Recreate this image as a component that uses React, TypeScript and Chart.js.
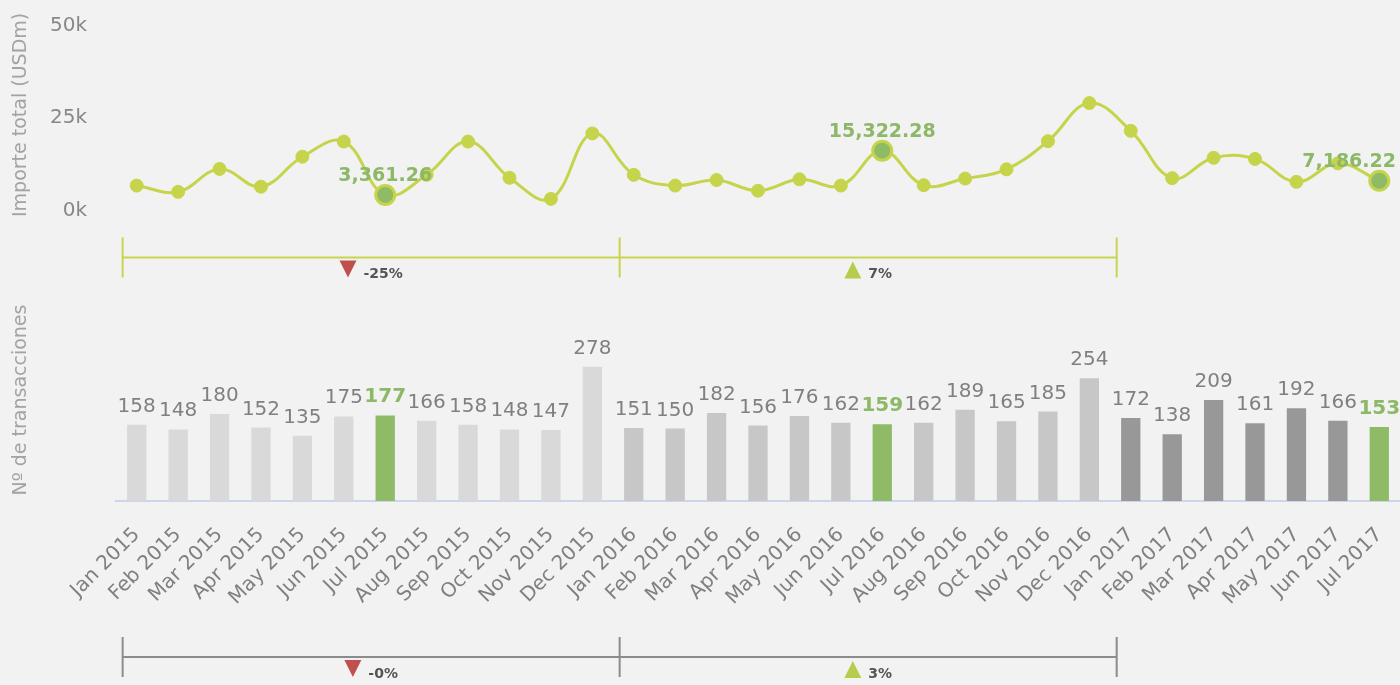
import React, { useEffect, useRef } from 'react';
import { Chart, registerables } from 'chart.js';

Chart.register(...registerables);

// ---------- data ----------
const months = [
  'Jan 2015', 'Feb 2015', 'Mar 2015', 'Apr 2015', 'May 2015', 'Jun 2015', 'Jul 2015', 'Aug 2015', 'Sep 2015', 'Oct 2015', 'Nov 2015', 'Dec 2015',
  'Jan 2016', 'Feb 2016', 'Mar 2016', 'Apr 2016', 'May 2016', 'Jun 2016', 'Jul 2016', 'Aug 2016', 'Sep 2016', 'Oct 2016', 'Nov 2016', 'Dec 2016',
  'Jan 2017', 'Feb 2017', 'Mar 2017', 'Apr 2017', 'May 2017', 'Jun 2017', 'Jul 2017',
];

// Importe total (USDm)
const amountUSDm = [
  5900, 4200, 10400, 5600, 13700, 17800, 3361.26, 8800, 17800, 8000, 2300, 20000,
  8800, 5900, 7400, 4500, 7600, 5900, 15322.28, 6000, 7800, 10300, 17900, 28200,
  20700, 7900, 13400, 13100, 6900, 11900, 7186.22,
];

// Nº de transacciones
const transactions = [
  158, 148, 180, 152, 135, 175, 177, 166, 158, 148, 147, 278,
  151, 150, 182, 156, 176, 162, 159, 162, 189, 165, 185, 254,
  172, 138, 209, 161, 192, 166, 153,
];

const amountTicks = [0, 25000, 50000];
const periodStarts = ['Jan 2015', 'Jan 2016', 'Jan 2017'];
const amountChangeLabels = ['-25%', '7%'];
const amountChangeDirs = ['down', 'up'];
const countChangeLabels = ['-0%', '3%'];
const countChangeDirs = ['down', 'up'];

// ---------- styles ----------
const FONT = '"DejaVu Sans", Verdana, sans-serif';
const LINE_COLOR = '#c6d44b';
const HI_GREEN = '#8fbb67';
const HI_TEXT = '#8cb868';
const LABEL_GRAY = '#808080';
const TITLE_GRAY = '#a3a3a3';
const YEAR_COLORS: Record<string, string> = { '2015': '#d9d9d9', '2016': '#c7c7c7', '2017': '#989898' };
const CANVAS_W = 1400;
const TOP_H = 290;
const BOTTOM_TOP = 290;
const BOTTOM_H = 395;
const AXIS_W = 116;

const isHi = (m: string) => m.startsWith('Jul');

function bracketPlugin(id: string, labels: string[], dirs: string[], color: string, lineY: number) {
  return {
    id,
    afterDraw(chart: any) {
      const ctx = chart.ctx;
      const xs = chart.scales.x;
      const step = xs.getPixelForValue(1) - xs.getPixelForValue(0);
      const pos = periodStarts.map((m) => xs.getPixelForValue(months.indexOf(m)) - 0.34 * step);
      const y = lineY;
      ctx.save();
      ctx.strokeStyle = color;
      ctx.lineWidth = 2;
      ctx.beginPath();
      ctx.moveTo(pos[0], y);
      ctx.lineTo(pos[pos.length - 1], y);
      pos.forEach((p) => {
        ctx.moveTo(p, y - 20);
        ctx.lineTo(p, y + 20);
      });
      ctx.stroke();
      ctx.font = `bold 14px ${FONT}`;
      ctx.textBaseline = 'middle';
      ctx.textAlign = 'left';
      labels.forEach((txt, k) => {
        const cx = (pos[k] + pos[k + 1]) / 2;
        const tw = ctx.measureText(txt).width;
        const triW = 17;
        const gap = 7;
        const sx = cx - (triW + gap + tw) / 2;
        ctx.beginPath();
        if (dirs[k] === 'down') {
          ctx.fillStyle = '#c0504d';
          ctx.moveTo(sx, y + 3);
          ctx.lineTo(sx + triW, y + 3);
          ctx.lineTo(sx + triW / 2, y + 20);
        } else {
          ctx.fillStyle = '#b5cc4c';
          ctx.moveTo(sx + triW / 2, y + 4);
          ctx.lineTo(sx + triW, y + 21);
          ctx.lineTo(sx, y + 21);
        }
        ctx.closePath();
        ctx.fill();
        ctx.fillStyle = '#555555';
        ctx.fillText(txt, sx + triW + gap, y + 17);
      });
      ctx.restore();
    },
  };
}

const lineLabels = {
  id: 'lineLabels',
  afterDatasetsDraw(chart: any) {
    const ctx = chart.ctx;
    const meta = chart.getDatasetMeta(0);
    ctx.save();
    ctx.font = `bold 19px ${FONT}`;
    ctx.fillStyle = HI_TEXT;
    ctx.textAlign = 'center';
    ctx.textBaseline = 'alphabetic';
    months.forEach((m, i) => {
      if (!isHi(m)) return;
      const pt = meta.data[i];
      const txt = amountUSDm[i].toLocaleString('en-US', { minimumFractionDigits: 2, maximumFractionDigits: 2 });
      const w = ctx.measureText(txt).width;
      const x = Math.min(pt.x, chart.width - 4 - w / 2);
      ctx.fillText(txt, x, pt.y - 14);
    });
    ctx.restore();
  },
};

const barLabels = {
  id: 'barLabels',
  afterDatasetsDraw(chart: any) {
    const ctx = chart.ctx;
    const meta = chart.getDatasetMeta(0);
    ctx.save();
    ctx.textAlign = 'center';
    ctx.textBaseline = 'alphabetic';
    months.forEach((m, i) => {
      const bar = meta.data[i];
      const hi = isHi(m);
      ctx.font = `${hi ? 'bold ' : ''}20px ${FONT}`;
      ctx.fillStyle = hi ? HI_TEXT : LABEL_GRAY;
      ctx.fillText(String(transactions[i]), bar.x, bar.y - 13);
    });
    ctx.restore();
  },
};

export default function App() {
  const topRef = useRef<HTMLCanvasElement>(null);
  const bottomRef = useRef<HTMLCanvasElement>(null);

  useEffect(() => {
    const top = new Chart(topRef.current!, {
      type: 'line',
      data: {
        labels: months,
        datasets: [
          {
            data: amountUSDm,
            borderColor: LINE_COLOR,
            borderWidth: 3,
            tension: 0.4,
            pointRadius: months.map((m) => (isHi(m) ? 9.5 : 6.5)),
            pointHoverRadius: months.map((m) => (isHi(m) ? 9.5 : 6.5)),
            pointBorderWidth: months.map((m) => (isHi(m) ? 3 : 1)),
            pointBackgroundColor: months.map((m) => (isHi(m) ? HI_GREEN : LINE_COLOR)),
            pointBorderColor: LINE_COLOR,
            clip: false,
          },
        ],
      },
      options: {
        responsive: false,
        maintainAspectRatio: false,
        animation: false,
        events: [],
        layout: { autoPadding: false, padding: { top: 22.4, bottom: TOP_H - 207.4, left: 0, right: 0 } },
        plugins: { legend: { display: false }, tooltip: { enabled: false } },
        scales: {
          x: { type: 'category', display: false, offset: true },
          y: {
            min: 0,
            max: 50000,
            afterFit: (s: any) => {
              s.width = AXIS_W;
              s.paddingTop = 0;
              s.paddingBottom = 0;
            },
            afterBuildTicks: (s: any) => {
              s.ticks = amountTicks.map((v) => ({ value: v }));
            },
            grid: { display: false, drawTicks: true, tickLength: 25 },
            border: { display: false },
            ticks: {
              callback: (v: any) => `${Number(v) / 1000}k`,
              color: '#888888',
              font: { family: FONT, size: 20 },
              padding: 4,
              labelOffset: 3,
            },
            title: {
              display: true,
              text: 'Importe total (USDm)',
              color: TITLE_GRAY,
              font: { family: FONT, size: 19 },
              padding: { top: 10, bottom: 0 },
            },
          },
        },
      },
      plugins: [lineLabels, bracketPlugin('topBracket', amountChangeLabels, amountChangeDirs, '#c8d44e', 257.4)],
    } as any);

    const bottom = new Chart(bottomRef.current!, {
      type: 'bar',
      data: {
        labels: months,
        datasets: [
          {
            data: transactions,
            backgroundColor: months.map((m) => (isHi(m) ? HI_GREEN : YEAR_COLORS[m.slice(-4)])),
            barPercentage: 0.466,
            categoryPercentage: 1,
          },
        ],
      },
      options: {
        responsive: false,
        maintainAspectRatio: false,
        animation: false,
        events: [],
        layout: { autoPadding: false, padding: { top: 9, bottom: 74, left: 0, right: 0 } },
        plugins: { legend: { display: false }, tooltip: { enabled: false } },
        scales: {
          x: {
            offset: true,
            grid: { display: false },
            border: { display: true, color: '#ccd6eb', width: 2 },
            afterFit: (s: any) => {
              s.height = 110;
              s.paddingLeft = 0;
              s.paddingRight = 0;
            },
            ticks: {
              autoSkip: false,
              minRotation: 45,
              maxRotation: 45,
              color: LABEL_GRAY,
              font: { family: FONT, size: 20 },
              padding: 14,
            },
          },
          y: {
            min: 0,
            max: 418,
            afterFit: (s: any) => {
              s.width = AXIS_W;
              s.paddingTop = 0;
              s.paddingBottom = 0;
            },
            grid: { display: false },
            border: { display: false },
            ticks: { display: false },
            title: {
              display: true,
              text: 'Nº de transacciones',
              color: TITLE_GRAY,
              font: { family: FONT, size: 19 },
              padding: { top: 10, bottom: 0 },
            },
          },
        },
      },
      plugins: [barLabels, bracketPlugin('bottomBracket', countChangeLabels, countChangeDirs, '#8c8c8c', 367)],
    } as any);

    return () => {
      top.destroy();
      bottom.destroy();
    };
  }, []);

  return (
    <div style={{ position: 'absolute', left: 0, top: 0, width: CANVAS_W, height: 685, background: '#f2f2f2', overflow: 'hidden' }}>
      <canvas ref={topRef} width={CANVAS_W} height={TOP_H} style={{ position: 'absolute', left: 0, top: 0, width: CANVAS_W, height: TOP_H }} />
      <canvas ref={bottomRef} width={CANVAS_W} height={BOTTOM_H} style={{ position: 'absolute', left: 0, top: BOTTOM_TOP, width: CANVAS_W, height: BOTTOM_H }} />
    </div>
  );
}
